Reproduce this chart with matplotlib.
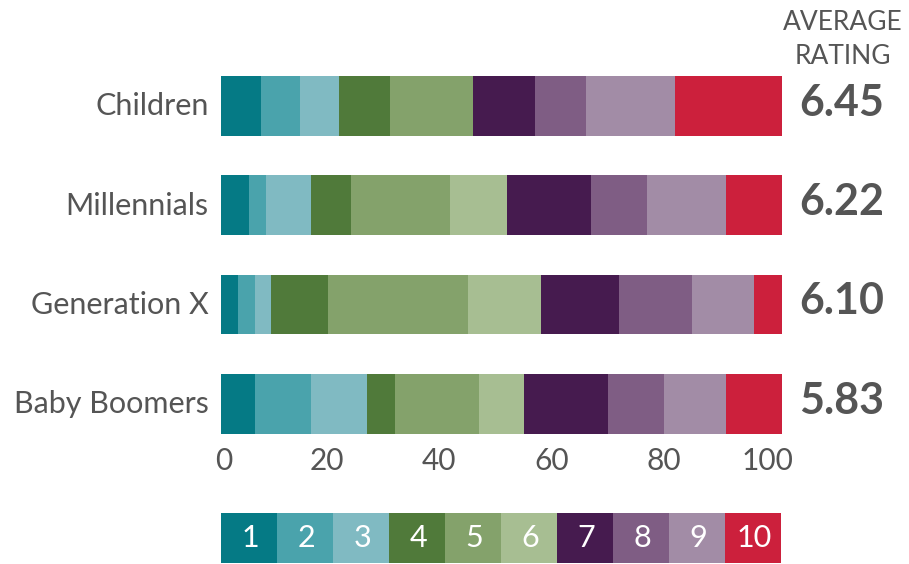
import numpy as np
import matplotlib.pyplot as plt
import matplotlib.transforms as mtransforms

plt.rcParams['font.family'] = ['Lato', 'DejaVu Sans']

# data
groups = ['Children', 'Millennials', 'Generation X', 'Baby Boomers']
ratings = ['6.45', '6.22', '6.10', '5.83']
scores = [str(i) for i in range(1, 11)]
children = [7.1, 7.0, 7.0, 9.1, 14.8, 0.0, 11.0, 9.1, 15.9, 19.0]
millennials = [5.0, 3.0, 8.0, 7.1, 17.8, 10.0, 15.0, 10.0, 14.1, 10.0]
gen_x = [3.0, 3.0, 3.0, 10.0, 25.0, 13.0, 14.0, 13.0, 11.0, 5.0]
boomers = [6.0, 10.0, 10.0, 5.0, 15.0, 8.0, 15.0, 10.0, 11.0, 10.0]
shares = np.array([children, millennials, gen_x, boomers])

colors = ['#057A85', '#4AA3AC', '#80BAC2', '#507A3A', '#84A26B',
          '#A7BE92', '#461B4F', '#7F5D84', '#A28CA6', '#CC203C']
txt = '#555555'

W, H = 909, 564
fig = plt.figure(figsize=(W / 100, H / 100), dpi=100)

# main stacked bars
ax = fig.add_axes([221 / W, (H - 433.5) / H, 561 / W, 357.5 / H])
ypos = np.arange(len(groups))
left = np.zeros(len(groups))
for k in range(len(scores)):
    ax.barh(ypos, shares[:, k], left=left, height=0.6, color=colors[k], linewidth=0)
    left += shares[:, k]

ax.set_xlim(0, 100)
ax.set_ylim(3.3, -0.3)
ax.set_yticks(ypos)
ax.set_yticklabels(groups, fontsize=22, color=txt)
ax.set_xticks([0, 20, 40, 60, 80, 100])
ax.tick_params(axis='x', labelsize=21.5, colors=txt, length=0, pad=10)
ax.tick_params(axis='y', length=0, pad=9)
shift = mtransforms.ScaledTranslation(11 / 100, 0, fig.dpi_scale_trans)
for lbl in ax.get_xticklabels():
    lbl.set_ha('right')
    lbl.set_transform(lbl.get_transform() + shift)
up = mtransforms.ScaledTranslation(0, 2 / 100, fig.dpi_scale_trans)
for lbl in ax.get_yticklabels():
    lbl.set_transform(lbl.get_transform() + up)
for s in ax.spines.values():
    s.set_visible(False)

for i, r in enumerate(ratings):
    ax.text(1.031, i - 0.03, r, transform=ax.get_yaxis_transform(), ha='left', va='center',
            fontsize=31, fontweight='bold', color=txt)

fig.text(843 / W, 1 - 23 / H, 'AVERAGE', ha='center', va='center', fontsize=19, color=txt)
fig.text(843 / W, 1 - 57 / H, 'RATING', ha='center', va='center', fontsize=19, color=txt)

# colour key
lg = fig.add_axes([221 / W, 1 / H, 560 / W, 50 / H])
for k, s in enumerate(scores):
    lg.barh(0, 1, left=k, height=1, color=colors[k], linewidth=0)
    lg.text(k + 0.53, 0, s, ha='center', va='center', color='white', fontsize=22)
lg.set_xlim(0, 10)
lg.set_ylim(-0.5, 0.5)
lg.axis('off')

fig.savefig('out.png', dpi=100)
